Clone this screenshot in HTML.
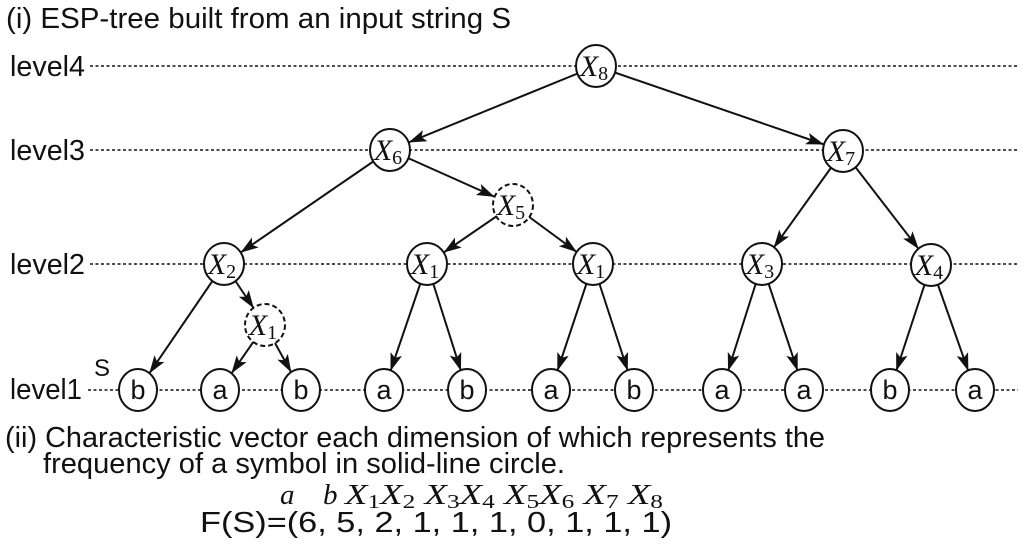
<!DOCTYPE html>
<html><head><meta charset="utf-8"><style>
body{margin:0;background:#fff}
svg{display:block}
text{font-family:"Liberation Sans",sans-serif;fill:#111}
text.m{font-family:"Liberation Serif",serif;font-style:italic}
</style></head><body>
<svg width="1024" height="547" viewBox="0 0 1024 547" xmlns="http://www.w3.org/2000/svg">
<defs>
<marker id="a" markerUnits="userSpaceOnUse" markerWidth="60" markerHeight="20" viewBox="0 -10 60 20" refX="38" refY="0" orient="auto">
<path d="M0,-6 L18,0 L0,6 L4,0 Z" fill="#111"/>
</marker>
</defs>
<text x="6" y="28" font-size="29" textLength="505" lengthAdjust="spacingAndGlyphs">(i) ESP-tree built from an input string S</text>
<g font-size="29">
<text x="10" y="76" textLength="75" lengthAdjust="spacingAndGlyphs">level4</text>
<text x="10" y="160" textLength="75" lengthAdjust="spacingAndGlyphs">level3</text>
<text x="10" y="274" textLength="75" lengthAdjust="spacingAndGlyphs">level2</text>
<text x="10" y="399" textLength="72" lengthAdjust="spacingAndGlyphs">level1</text>
<text x="94" y="376" font-size="24">S</text>
</g>
<g stroke="#111" stroke-width="1.6" stroke-dasharray="3,2.5">
<line x1="90" y1="66" x2="1018" y2="66"/>
<line x1="90" y1="150" x2="1018" y2="150"/>
<line x1="90" y1="264" x2="1018" y2="264"/>
<line x1="88" y1="390" x2="1018" y2="390"/>
</g>
<g stroke="#111" stroke-width="2" marker-end="url(#a)">
<line x1="596" y1="66" x2="390" y2="150"/>
<line x1="596" y1="66" x2="843" y2="151"/>
<line x1="390" y1="150" x2="224" y2="264"/>
<line x1="390" y1="150" x2="513" y2="205"/>
<line x1="513" y1="205" x2="427" y2="264"/>
<line x1="513" y1="205" x2="593" y2="264"/>
<line x1="843" y1="151" x2="762" y2="264"/>
<line x1="843" y1="151" x2="931" y2="265"/>
<line x1="224" y1="264" x2="138" y2="390"/>
<line x1="224" y1="264" x2="265" y2="325"/>
<line x1="265" y1="325" x2="220" y2="390"/>
<line x1="265" y1="325" x2="301" y2="390"/>
<line x1="427" y1="264" x2="384" y2="390"/>
<line x1="427" y1="264" x2="467" y2="390"/>
<line x1="593" y1="264" x2="551" y2="390"/>
<line x1="593" y1="264" x2="634" y2="390"/>
<line x1="762" y1="264" x2="722" y2="390"/>
<line x1="762" y1="264" x2="804" y2="390"/>
<line x1="931" y1="265" x2="890" y2="390"/>
<line x1="931" y1="265" x2="975" y2="390"/>
</g>
<g fill="#fff" stroke="#111" stroke-width="2">
<ellipse cx="596" cy="66" rx="20" ry="21"/>
<ellipse cx="390" cy="150" rx="20" ry="21"/>
<ellipse cx="843" cy="151" rx="20" ry="21"/>
<ellipse cx="224" cy="264" rx="20" ry="21"/>
<ellipse cx="427" cy="264" rx="20" ry="21"/>
<ellipse cx="593" cy="264" rx="20" ry="21"/>
<ellipse cx="762" cy="264" rx="20" ry="21"/>
<ellipse cx="931" cy="265" rx="20" ry="21"/>
<g stroke-dasharray="5,3">
<ellipse cx="513" cy="205" rx="20" ry="21"/>
<ellipse cx="265" cy="325" rx="20" ry="21"/>
</g>
<ellipse cx="138" cy="390" rx="19" ry="21"/>
<ellipse cx="220" cy="390" rx="19" ry="21"/>
<ellipse cx="301" cy="390" rx="19" ry="21"/>
<ellipse cx="384" cy="390" rx="19" ry="21"/>
<ellipse cx="467" cy="390" rx="19" ry="21"/>
<ellipse cx="551" cy="390" rx="19" ry="21"/>
<ellipse cx="634" cy="390" rx="19" ry="21"/>
<ellipse cx="722" cy="390" rx="19" ry="21"/>
<ellipse cx="804" cy="390" rx="19" ry="21"/>
<ellipse cx="890" cy="390" rx="19" ry="21"/>
<ellipse cx="975" cy="390" rx="19" ry="21"/>
</g>
<g font-size="30" text-anchor="middle">
<text x="594" y="76" class="m">X<tspan font-size="20" font-style="normal" dy="4">8</tspan></text>
<text x="388" y="160" class="m">X<tspan font-size="20" font-style="normal" dy="4">6</tspan></text>
<text x="841" y="161" class="m">X<tspan font-size="20" font-style="normal" dy="4">7</tspan></text>
<text x="222" y="274" class="m">X<tspan font-size="20" font-style="normal" dy="4">2</tspan></text>
<text x="425" y="274" class="m">X<tspan font-size="20" font-style="normal" dy="4">1</tspan></text>
<text x="591" y="274" class="m">X<tspan font-size="20" font-style="normal" dy="4">1</tspan></text>
<text x="760" y="274" class="m">X<tspan font-size="20" font-style="normal" dy="4">3</tspan></text>
<text x="929" y="275" class="m">X<tspan font-size="20" font-style="normal" dy="4">4</tspan></text>
<text x="511" y="215" class="m">X<tspan font-size="20" font-style="normal" dy="4">5</tspan></text>
<text x="263" y="335" class="m">X<tspan font-size="20" font-style="normal" dy="4">1</tspan></text>
</g>
<g font-size="27" text-anchor="middle">
<text x="138" y="399">b</text><text x="220" y="399">a</text><text x="301" y="399">b</text>
<text x="384" y="399">a</text><text x="467" y="399">b</text><text x="551" y="399">a</text>
<text x="634" y="399">b</text><text x="722" y="399">a</text><text x="804" y="399">a</text>
<text x="890" y="399">b</text><text x="975" y="399">a</text>
</g>
<g font-size="29">
<text x="5" y="447" textLength="820" lengthAdjust="spacingAndGlyphs">(ii) Characteristic vector each dimension of which represents the</text>
<text x="43" y="473" textLength="522" lengthAdjust="spacingAndGlyphs">frequency of a symbol in solid-line circle.</text>
<text x="200" y="532" textLength="472" lengthAdjust="spacingAndGlyphs">F(S)=(6,  5,  2,  1,  1,  1,  0,  1,  1,  1)</text>
</g>
<g font-size="29">
<text x="280" y="504" class="m">a</text>
<text x="323" y="504" class="m">b</text>
<text x="345" y="504" class="m" textLength="318" lengthAdjust="spacingAndGlyphs">X<tspan font-size="20" font-style="normal" dy="4">1</tspan><tspan dy="-4">X</tspan><tspan font-size="20" font-style="normal" dy="4">2</tspan><tspan dy="-4"> X</tspan><tspan font-size="20" font-style="normal" dy="4">3</tspan><tspan dy="-4">X</tspan><tspan font-size="20" font-style="normal" dy="4">4</tspan><tspan dy="-4"> X</tspan><tspan font-size="20" font-style="normal" dy="4">5</tspan><tspan dy="-4">X</tspan><tspan font-size="20" font-style="normal" dy="4">6</tspan><tspan dy="-4"> X</tspan><tspan font-size="20" font-style="normal" dy="4">7</tspan><tspan dy="-4"> X</tspan><tspan font-size="20" font-style="normal" dy="4">8</tspan></text>
</g>
</svg>
</body></html>
